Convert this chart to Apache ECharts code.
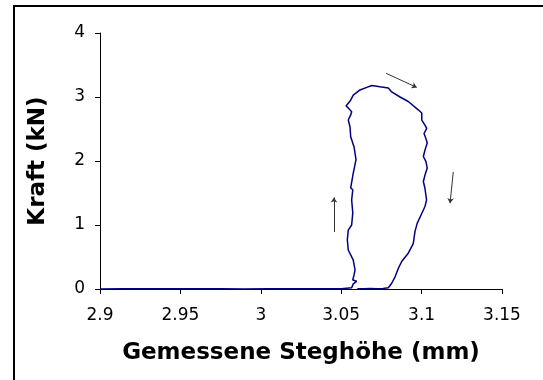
<!DOCTYPE html>
<html><head><meta charset="utf-8">
<script src="https://cdn.jsdelivr.net/npm/echarts@6/dist/echarts.min.js"></script>
<style>html,body{margin:0;padding:0;background:#fff}#c{width:543px;height:380px}</style>
</head><body><div id="c"></div>
<script>
// Measured loop: Gemessene Steghöhe (mm) vs Kraft (kN)
const steghoehe = [2.900,2.915,2.930,2.945,2.960,2.975,2.990,3.005,3.020,3.035,3.050,3.0565,
 3.0575,3.0596,3.0572,3.0580,3.0586,3.0575,3.0544,3.0538,3.0544,3.0565,3.0572,3.0565,3.0572,3.0559,
 3.0575,3.0592,3.0580,3.0559,3.0555,3.0544,3.0559,3.0565,3.0544,3.0530,3.0538,3.0559,3.0575,3.0617,
 3.0659,3.0690,3.0741,3.0793,3.0814,3.0866,3.0917,3.0979,3.1001,3.1001,3.1021,3.1032,3.1015,3.1027,
 3.1035,3.1021,3.1011,3.1027,3.1035,3.1021,3.1011,3.1021,3.1027,3.1031,3.1021,3.1001,3.0973,3.0959,
 3.0948,3.0917,3.0876,3.0855,3.0835,3.0814,3.0793,3.0760,3.0720,3.0680,3.0640,3.0600];
const kraft = [0.000,0.003,0.002,0.004,0.002,0.003,0.001,0.003,0.004,0.003,0.004,0.020,
 0.080,0.120,0.140,0.220,0.300,0.450,0.610,0.770,0.920,1.000,1.190,1.390,1.550,1.580,
 1.810,2.020,2.220,2.380,2.530,2.640,2.720,2.770,2.830,2.860,2.890,2.950,3.030,3.110,
 3.150,3.180,3.160,3.140,3.080,3.000,2.930,2.800,2.750,2.640,2.560,2.510,2.430,2.350,
 2.280,2.170,2.070,1.990,1.890,1.780,1.680,1.570,1.550,1.390,1.290,1.180,1.030,0.900,
 0.710,0.560,0.430,0.320,0.190,0.090,0.020,0.008,0.004,0.006,0.003,0.005];
// direction arrows [x0, y0, x1, y1]
const arrowUp    = [3.0455, 0.89, 3.0455, 1.43];
const arrowRight = [3.0779, 3.37, 3.0970, 3.15];
const arrowDown  = [3.1197, 1.83, 3.1177, 1.34];
const xTicks = [2.9, 2.95, 3, 3.05, 3.1, 3.15];
const yTicks = [0, 1, 2, 3, 4];

const loop = steghoehe.map((x, i) => [x, kraft[i]]);
const arrows = [arrowUp, arrowRight, arrowDown].map(a => ({coords: [[a[0], a[1]], [a[2], a[3]]]}));
const chart = echarts.init(document.getElementById('c'), null, {renderer: 'canvas'});
const font = 'DejaVu Sans, Verdana, sans-serif';
chart.setOption({
  animation: false,
  backgroundColor: '#fff',
  graphic: [{type: 'rect', shape: {x: 14, y: 6, width: 600, height: 500},
    style: {fill: 'none', stroke: '#000', lineWidth: 2}, silent: true, z: 100}],
  grid: {left: 100, right: 41, top: 33, bottom: 91, containLabel: false},
  xAxis: {
    type: 'value', min: xTicks[0], max: xTicks[xTicks.length - 1], interval: 0.05,
    name: 'Gemessene Steghöhe (mm)', nameLocation: 'middle', nameGap: 53,
    nameTextStyle: {fontFamily: font, fontWeight: 'bold', fontSize: 23, color: '#000'},
    axisLine: {onZero: false, lineStyle: {color: '#000', width: 1}},
    axisTick: {show: true, length: 5, lineStyle: {color: '#000'}},
    axisLabel: {fontFamily: font, fontSize: 17, color: '#000', margin: 18,
      formatter: v => String(parseFloat(v.toFixed(2)))},
    splitLine: {show: false}
  },
  yAxis: {
    type: 'value', min: yTicks[0], max: yTicks[yTicks.length - 1], interval: 1,
    name: 'Kraft (kN)', nameLocation: 'middle', nameGap: 50, nameRotate: 90,
    nameTextStyle: {fontFamily: font, fontWeight: 'bold', fontSize: 23, color: '#000'},
    axisLine: {show: true, lineStyle: {color: '#000', width: 1}},
    axisTick: {show: true, length: 5, lineStyle: {color: '#000'}},
    axisLabel: {fontFamily: font, fontSize: 17, color: '#000', margin: 15},
    splitLine: {show: false}
  },
  series: [
    {type: 'line', data: loop, showSymbol: false, symbol: 'none',
     lineStyle: {color: '#000080', width: 1.5}, z: 3},
    {type: 'lines', coordinateSystem: 'cartesian2d', data: arrows,
     symbol: ['none', 'arrow'], symbolSize: 5,
     lineStyle: {color: '#333', width: 1, opacity: 1}, z: 4}
  ]
});
</script></body></html>
